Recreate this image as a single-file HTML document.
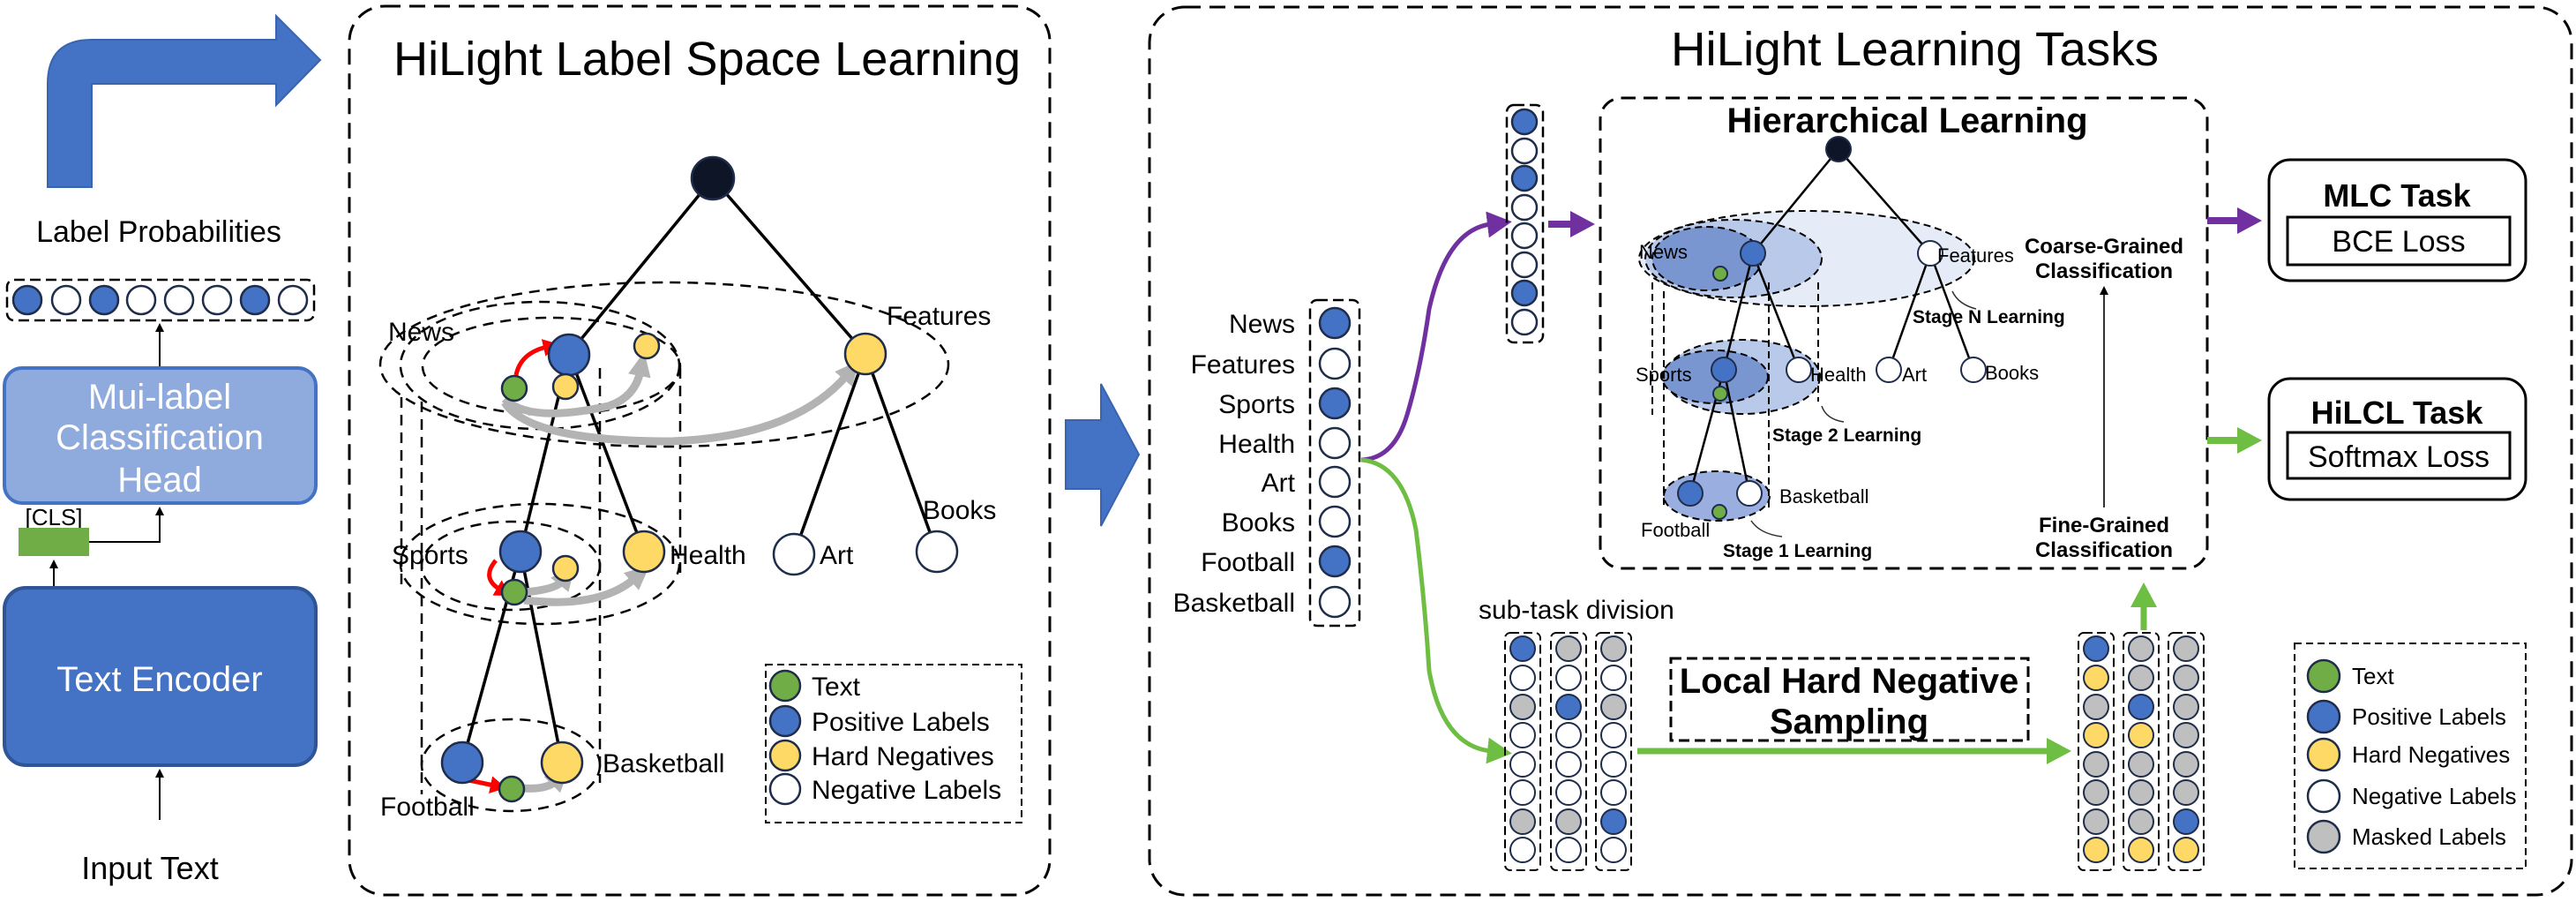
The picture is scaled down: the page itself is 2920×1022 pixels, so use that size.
<!DOCTYPE html>
<html><head><meta charset="utf-8"><style>
html,body{margin:0;padding:0;background:#fff;}
svg{display:block;font-family:"Liberation Sans",Arial,sans-serif;}
</style></head><body>
<svg width="2920" height="1022" viewBox="0 0 2920 1022" xmlns="http://www.w3.org/2000/svg">
<defs>
<marker id="ak" markerWidth="10" markerHeight="10" refX="8" refY="5" orient="auto" markerUnits="userSpaceOnUse"><path d="M0,0 L10,5 L0,10 z" fill="#000"/></marker>
<marker id="ag" markerWidth="30" markerHeight="30" refX="6" refY="15" orient="auto" markerUnits="userSpaceOnUse"><path d="M0,2 L28,15 L0,28 z" fill="#b3b3b3"/></marker>
<marker id="ar" markerWidth="20" markerHeight="20" refX="4" refY="10" orient="auto" markerUnits="userSpaceOnUse"><path d="M0,0 L18,10 L0,20 z" fill="#f00"/></marker>
<marker id="ap" markerWidth="30" markerHeight="30" refX="4" refY="15" orient="auto" markerUnits="userSpaceOnUse"><path d="M0,0 L28,15 L0,30 z" fill="#7030a0"/></marker>
<marker id="agr" markerWidth="30" markerHeight="30" refX="4" refY="15" orient="auto" markerUnits="userSpaceOnUse"><path d="M0,0 L28,15 L0,30 z" fill="#6fbe44"/></marker>
</defs>

<!-- Left column -->
<path d="M54,212 L54,95 Q54,45 104,45 L313,45 L313,18 L363,68 L313,119 L313,95 L104,95 L104,212 Z" fill="#4472c4" stroke="#3a64b0" stroke-width="2"/>
<text x="180" y="274" font-size="34" text-anchor="middle">Label Probabilities</text>
<rect x="8" y="317" width="348" height="46" rx="8" fill="none" stroke="#000" stroke-width="2.5" stroke-dasharray="12,6"/>
<g stroke="#1f2d4a" stroke-width="2.5">
<circle cx="31" cy="340" r="16" fill="#4472c4"/><circle cx="75" cy="340" r="16" fill="#fff"/>
<circle cx="118" cy="340" r="16" fill="#4472c4"/><circle cx="160" cy="340" r="16" fill="#fff"/>
<circle cx="203" cy="340" r="16" fill="#fff"/><circle cx="246" cy="340" r="16" fill="#fff"/>
<circle cx="289" cy="340" r="16" fill="#4472c4"/><circle cx="332" cy="340" r="16" fill="#fff"/>
</g>
<line x1="181" y1="417" x2="181" y2="368" stroke="#000" stroke-width="2" marker-end="url(#ak)"/>
<rect x="5" y="417" width="353" height="153" rx="20" fill="#8faadc" stroke="#4472c4" stroke-width="4"/>
<g fill="#fff" font-size="40" text-anchor="middle"><text x="181" y="463">Mui-label</text><text x="181" y="509">Classification</text><text x="181" y="557">Head</text></g>
<text x="61" y="595" font-size="26" text-anchor="middle">[CLS]</text>
<rect x="21" y="598" width="80" height="32" fill="#70ad47"/>
<polyline points="101,614 181,614 181,576" fill="none" stroke="#000" stroke-width="2" marker-end="url(#ak)"/>
<line x1="61" y1="666" x2="61" y2="636" stroke="#000" stroke-width="2" marker-end="url(#ak)"/>
<rect x="5" y="666" width="353" height="201" rx="24" fill="#4472c4" stroke="#2f5597" stroke-width="4"/>
<text x="181" y="783" font-size="40" fill="#fff" text-anchor="middle">Text Encoder</text>
<line x1="181" y1="929" x2="181" y2="873" stroke="#000" stroke-width="2" marker-end="url(#ak)"/>
<text x="170" y="996" font-size="36" text-anchor="middle">Input Text</text>

<!-- Left panel -->
<rect x="396" y="7" width="794" height="1007" rx="40" fill="none" stroke="#000" stroke-width="3" stroke-dasharray="18,10"/>
<text x="446" y="85" font-size="54" textLength="711" lengthAdjust="spacingAndGlyphs">HiLight Label Space Learning</text>

<g fill="none" stroke="#000" stroke-width="2.5" stroke-dasharray="12,8">
<ellipse cx="753" cy="413" rx="322" ry="93"/>
<ellipse cx="612" cy="414" rx="158" ry="72"/>
<ellipse cx="625" cy="415" rx="146" ry="55"/>
<ellipse cx="612" cy="639" rx="158" ry="68"/>
<ellipse cx="579" cy="641" rx="101" ry="50"/>
<ellipse cx="579" cy="867" rx="101" ry="52"/>
<line x1="455" y1="450" x2="455" y2="668"/>
<line x1="478" y1="455" x2="478" y2="900"/>
<line x1="680" y1="417" x2="680" y2="887"/>
<line x1="771" y1="417" x2="771" y2="652"/>
</g>
<g stroke="#000" stroke-width="3.5">
<line x1="808" y1="202" x2="645" y2="401"/><line x1="808" y1="202" x2="981" y2="401"/>
<line x1="645" y1="401" x2="590" y2="625"/><line x1="645" y1="401" x2="730" y2="625"/>
<line x1="981" y1="401" x2="900" y2="628"/><line x1="981" y1="401" x2="1062" y2="625"/>
<line x1="590" y1="625" x2="524" y2="864"/><line x1="590" y1="625" x2="637" y2="864"/>
</g>
<g fill="none" stroke="#b3b3b3" stroke-width="9">
<path d="M572,452 Q600,480 690,460 Q720,450 726,420" marker-end="url(#ag)"/>
<path d="M572,456 Q600,500 760,500 Q900,495 960,425" marker-end="url(#ag)"/>
<path d="M594,671 Q630,668 638,658" marker-end="url(#ag)"/>
<path d="M594,680 Q680,690 720,655" marker-end="url(#ag)"/>
<path d="M592,893 Q620,895 630,885" marker-end="url(#ag)"/>
</g>
<g fill="none" stroke="#f00" stroke-width="5">
<path d="M585,425 Q590,400 620,393" marker-end="url(#ar)"/>
<path d="M562,635 Q545,655 567,668" marker-end="url(#ar)"/>
<path d="M512,880 L560,890" marker-end="url(#ar)"/>
</g>
<g stroke="#1f2d4a" stroke-width="2.5">
<circle cx="808" cy="202" r="24" fill="#0d1526"/>
<circle cx="645" cy="402" r="23" fill="#4472c4"/>
<circle cx="981" cy="401" r="23" fill="#ffd966"/>
<circle cx="733" cy="392" r="14" fill="#ffd966"/>
<circle cx="641" cy="438" r="14" fill="#ffd966"/>
<circle cx="583" cy="440" r="14" fill="#70ad47"/>
<circle cx="590" cy="625" r="23" fill="#4472c4"/>
<circle cx="730" cy="625" r="23" fill="#ffd966"/>
<circle cx="641" cy="644" r="14" fill="#ffd966"/>
<circle cx="583" cy="671" r="14" fill="#70ad47"/>
<circle cx="900" cy="628" r="23" fill="#fff"/>
<circle cx="1062" cy="625" r="23" fill="#fff"/>
<circle cx="524" cy="864" r="23" fill="#4472c4"/>
<circle cx="637" cy="864" r="23" fill="#ffd966"/>
<circle cx="580" cy="894" r="14" fill="#70ad47"/>
</g>
<g font-size="30">
<text x="440" y="386">News</text><text x="1005" y="368">Features</text>
<text x="444" y="639">Sports</text><text x="759" y="639">Health</text>
<text x="929" y="639">Art</text><text x="1046" y="588">Books</text>
<text x="683" y="875">Basketball</text><text x="431" y="924">Football</text>
</g>
<rect x="868" y="753" width="290" height="179" fill="none" stroke="#000" stroke-width="2" stroke-dasharray="8,5"/>
<g stroke="#1f2d4a" stroke-width="2.5">
<circle cx="890" cy="777" r="17" fill="#70ad47"/><circle cx="890" cy="817" r="17" fill="#4472c4"/>
<circle cx="890" cy="856" r="17" fill="#ffd966"/><circle cx="890" cy="894" r="17" fill="#fff"/>
</g>
<g font-size="30"><text x="920" y="788">Text</text><text x="920" y="828">Positive Labels</text><text x="920" y="867">Hard Negatives</text><text x="920" y="905">Negative Labels</text></g>

<!-- middle arrow -->
<path d="M1208,476 L1248,476 L1248,435 L1291,515 L1248,596 L1248,554 L1208,554 Z" fill="#4472c4" stroke="#3a64b0" stroke-width="2"/>

<!-- Right panel -->
<rect x="1303" y="8" width="1612" height="1006" rx="40" fill="none" stroke="#000" stroke-width="3" stroke-dasharray="18,10"/>
<text x="1894" y="74" font-size="54" textLength="553" lengthAdjust="spacingAndGlyphs">HiLight Learning Tasks</text>

<g font-size="30" text-anchor="end">
<text x="1468" y="377">News</text><text x="1468" y="423">Features</text><text x="1468" y="468">Sports</text>
<text x="1468" y="513">Health</text><text x="1468" y="557">Art</text><text x="1468" y="602">Books</text>
<text x="1468" y="647">Football</text><text x="1468" y="693">Basketball</text>
</g>
<rect x="1485" y="340" width="56" height="369" rx="8" fill="none" stroke="#000" stroke-width="2.5" stroke-dasharray="12,6"/>
<g stroke="#1f2d4a" stroke-width="2.5">
<circle cx="1513" cy="366" r="17" fill="#4472c4"/><circle cx="1513" cy="412" r="17" fill="#fff"/>
<circle cx="1513" cy="457" r="17" fill="#4472c4"/><circle cx="1513" cy="502" r="17" fill="#fff"/>
<circle cx="1513" cy="546" r="17" fill="#fff"/><circle cx="1513" cy="591" r="17" fill="#fff"/>
<circle cx="1513" cy="636" r="17" fill="#4472c4"/><circle cx="1513" cy="682" r="17" fill="#fff"/>
</g>
<path d="M1543,521 Q1580,520 1595,470 Q1610,420 1620,350 Q1640,260 1690,254" fill="none" stroke="#7030a0" stroke-width="5" marker-end="url(#ap)"/>
<path d="M1543,521 Q1590,525 1605,600 Q1615,680 1620,760 Q1635,845 1690,851" fill="none" stroke="#6fbe44" stroke-width="5" marker-end="url(#agr)"/>

<rect x="1708" y="119" width="41" height="269" rx="8" fill="none" stroke="#000" stroke-width="2.5" stroke-dasharray="12,6"/>
<g stroke="#1f2d4a" stroke-width="2.5">
<circle cx="1728" cy="138" r="14" fill="#4472c4"/><circle cx="1728" cy="171" r="14" fill="#fff"/>
<circle cx="1728" cy="202" r="14" fill="#4472c4"/><circle cx="1728" cy="235" r="14" fill="#fff"/>
<circle cx="1728" cy="267" r="14" fill="#fff"/><circle cx="1728" cy="300" r="14" fill="#fff"/>
<circle cx="1728" cy="332" r="14" fill="#4472c4"/><circle cx="1728" cy="365" r="14" fill="#fff"/>
</g>
<line x1="1755" y1="254" x2="1784" y2="254" stroke="#7030a0" stroke-width="8" marker-end="url(#ap)"/>

<!-- Hierarchical Learning box -->
<rect x="1814" y="111" width="688" height="533" rx="24" fill="none" stroke="#000" stroke-width="3" stroke-dasharray="16,9"/>
<text x="2162" y="150" font-size="40" font-weight="bold" text-anchor="middle">Hierarchical Learning</text>
<g stroke="#000" stroke-width="2" stroke-dasharray="8,5">
<ellipse cx="2048" cy="293" rx="190" ry="54" fill="#e6ecf7"/>
<ellipse cx="1965" cy="293" rx="100" ry="44" fill="#b9c9ea"/>
<ellipse cx="1935" cy="293" rx="62" ry="36" fill="#7a96d0"/>
<ellipse cx="1975" cy="427" rx="88" ry="42" fill="#b9c9ea"/>
<ellipse cx="1944" cy="427" rx="60" ry="30" fill="#7a96d0"/>
<ellipse cx="1946" cy="562" rx="60" ry="28" fill="#9aaee0"/>
<line x1="1873" y1="320" x2="1873" y2="470" fill="none"/>
<line x1="1886" y1="330" x2="1886" y2="575" fill="none"/>
<line x1="2005" y1="320" x2="2005" y2="575" fill="none"/>
<line x1="2061" y1="320" x2="2061" y2="455" fill="none"/>
</g>
<g stroke="#000" stroke-width="2.5">
<line x1="2084" y1="169" x2="1987" y2="287"/><line x1="2084" y1="169" x2="2188" y2="287"/>
<line x1="1987" y1="287" x2="1954" y2="419"/><line x1="1987" y1="287" x2="2039" y2="419"/>
<line x1="2188" y1="287" x2="2141" y2="419"/><line x1="2188" y1="287" x2="2237" y2="419"/>
<line x1="1954" y1="419" x2="1916" y2="559"/><line x1="1954" y1="419" x2="1983" y2="559"/>
</g>
<g stroke="#1f2d4a" stroke-width="2">
<circle cx="2084" cy="169" r="14" fill="#0d1526"/>
<circle cx="1987" cy="287" r="14" fill="#4472c4"/><circle cx="2188" cy="287" r="14" fill="#fff"/>
<circle cx="1950" cy="310" r="8" fill="#70ad47"/>
<circle cx="1954" cy="419" r="14" fill="#4472c4"/><circle cx="2039" cy="419" r="14" fill="#fff"/>
<circle cx="2141" cy="419" r="14" fill="#fff"/><circle cx="2237" cy="419" r="14" fill="#fff"/>
<circle cx="1950" cy="446" r="8" fill="#70ad47"/>
<circle cx="1916" cy="559" r="14" fill="#4472c4"/><circle cx="1983" cy="559" r="14" fill="#fff"/>
<circle cx="1949" cy="580" r="8" fill="#70ad47"/>
</g>
<g font-size="22">
<text x="1858" y="293">News</text><text x="2196" y="297">Features</text>
<text x="1854" y="432">Sports</text><text x="2052" y="432">Health</text>
<text x="2156" y="432">Art</text><text x="2250" y="430">Books</text>
<text x="2017" y="570">Basketball</text><text x="1860" y="608">Football</text>
</g>
<g font-size="21" font-weight="bold">
<text x="2168" y="366">Stage N Learning</text>
<text x="2009" y="500">Stage 2 Learning</text>
<text x="1953" y="631">Stage 1 Learning</text>
</g>
<g fill="none" stroke="#333" stroke-width="1.5">
<path d="M2213,330 Q2220,345 2240,350"/><path d="M2065,460 Q2070,475 2090,478"/><path d="M1985,590 Q1995,605 2020,608"/>
</g>
<g font-size="24" font-weight="bold" text-anchor="middle">
<text x="2385" y="287">Coarse-Grained</text><text x="2385" y="315">Classification</text>
<text x="2385" y="603">Fine-Grained</text><text x="2385" y="631">Classification</text>
</g>
<line x1="2385" y1="575" x2="2385" y2="326" stroke="#333" stroke-width="2" marker-end="url(#ak)"/>

<!-- Task boxes -->
<line x1="2502" y1="250" x2="2540" y2="250" stroke="#7030a0" stroke-width="8" marker-end="url(#ap)"/>
<line x1="2502" y1="499" x2="2540" y2="499" stroke="#6fbe44" stroke-width="8" marker-end="url(#agr)"/>
<rect x="2572" y="181" width="291" height="137" rx="24" fill="none" stroke="#000" stroke-width="3"/>
<text x="2717" y="234" font-size="36" font-weight="bold" text-anchor="middle">MLC Task</text>
<rect x="2593" y="246" width="252" height="54" fill="none" stroke="#000" stroke-width="3"/>
<text x="2719" y="285" font-size="34" text-anchor="middle">BCE Loss</text>
<rect x="2572" y="429" width="291" height="137" rx="24" fill="none" stroke="#000" stroke-width="3"/>
<text x="2717" y="480" font-size="36" font-weight="bold" text-anchor="middle">HiLCL Task</text>
<rect x="2593" y="490" width="252" height="52" fill="none" stroke="#000" stroke-width="3"/>
<text x="2719" y="529" font-size="34" text-anchor="middle">Softmax Loss</text>

<!-- sub-task division -->
<text x="1676" y="701" font-size="30">sub-task division</text>
<g fill="none" stroke="#000" stroke-width="2" stroke-dasharray="10,5">
<rect x="1706" y="717" width="40" height="269" rx="6"/><rect x="1758" y="717" width="40" height="269" rx="6"/><rect x="1809" y="717" width="40" height="269" rx="6"/>
<rect x="2356" y="717" width="40" height="269" rx="6"/><rect x="2407" y="717" width="40" height="269" rx="6"/><rect x="2458" y="717" width="40" height="269" rx="6"/>
</g>
<g stroke="#1f2d4a" stroke-width="2">
<!-- left col1 -->
<circle cx="1726" cy="735" r="14" fill="#4472c4"/><circle cx="1726" cy="768" r="14" fill="#fff"/><circle cx="1726" cy="801" r="14" fill="#bfbfbf"/><circle cx="1726" cy="833" r="14" fill="#fff"/><circle cx="1726" cy="866" r="14" fill="#fff"/><circle cx="1726" cy="898" r="14" fill="#fff"/><circle cx="1726" cy="931" r="14" fill="#bfbfbf"/><circle cx="1726" cy="963" r="14" fill="#fff"/>
<circle cx="1778" cy="735" r="14" fill="#bfbfbf"/><circle cx="1778" cy="768" r="14" fill="#fff"/><circle cx="1778" cy="801" r="14" fill="#4472c4"/><circle cx="1778" cy="833" r="14" fill="#fff"/><circle cx="1778" cy="866" r="14" fill="#fff"/><circle cx="1778" cy="898" r="14" fill="#fff"/><circle cx="1778" cy="931" r="14" fill="#bfbfbf"/><circle cx="1778" cy="963" r="14" fill="#fff"/>
<circle cx="1829" cy="735" r="14" fill="#bfbfbf"/><circle cx="1829" cy="768" r="14" fill="#fff"/><circle cx="1829" cy="801" r="14" fill="#bfbfbf"/><circle cx="1829" cy="833" r="14" fill="#fff"/><circle cx="1829" cy="866" r="14" fill="#fff"/><circle cx="1829" cy="898" r="14" fill="#fff"/><circle cx="1829" cy="931" r="14" fill="#4472c4"/><circle cx="1829" cy="963" r="14" fill="#fff"/>
<!-- right cols -->
<circle cx="2376" cy="735" r="14" fill="#4472c4"/><circle cx="2376" cy="768" r="14" fill="#ffd966"/><circle cx="2376" cy="801" r="14" fill="#bfbfbf"/><circle cx="2376" cy="833" r="14" fill="#ffd966"/><circle cx="2376" cy="866" r="14" fill="#bfbfbf"/><circle cx="2376" cy="898" r="14" fill="#bfbfbf"/><circle cx="2376" cy="931" r="14" fill="#bfbfbf"/><circle cx="2376" cy="963" r="14" fill="#ffd966"/>
<circle cx="2427" cy="735" r="14" fill="#bfbfbf"/><circle cx="2427" cy="768" r="14" fill="#bfbfbf"/><circle cx="2427" cy="801" r="14" fill="#4472c4"/><circle cx="2427" cy="833" r="14" fill="#ffd966"/><circle cx="2427" cy="866" r="14" fill="#bfbfbf"/><circle cx="2427" cy="898" r="14" fill="#bfbfbf"/><circle cx="2427" cy="931" r="14" fill="#bfbfbf"/><circle cx="2427" cy="963" r="14" fill="#ffd966"/>
<circle cx="2478" cy="735" r="14" fill="#bfbfbf"/><circle cx="2478" cy="768" r="14" fill="#bfbfbf"/><circle cx="2478" cy="801" r="14" fill="#bfbfbf"/><circle cx="2478" cy="833" r="14" fill="#bfbfbf"/><circle cx="2478" cy="866" r="14" fill="#bfbfbf"/><circle cx="2478" cy="898" r="14" fill="#bfbfbf"/><circle cx="2478" cy="931" r="14" fill="#4472c4"/><circle cx="2478" cy="963" r="14" fill="#ffd966"/>
</g>
<line x1="1856" y1="851" x2="2324" y2="851" stroke="#6fbe44" stroke-width="7" marker-end="url(#agr)"/>
<line x1="2430" y1="714" x2="2430" y2="684" stroke="#6fbe44" stroke-width="7" marker-end="url(#agr)"/>
<rect x="1894" y="746" width="405" height="93" fill="none" stroke="#000" stroke-width="3" stroke-dasharray="12,6"/>
<g font-size="40" font-weight="bold" text-anchor="middle"><text x="2096" y="785">Local Hard Negative</text><text x="2096" y="831">Sampling</text></g>

<rect x="2601" y="729" width="262" height="255" fill="none" stroke="#000" stroke-width="2" stroke-dasharray="8,5"/>
<g stroke="#1f2d4a" stroke-width="2.5">
<circle cx="2634" cy="766" r="18" fill="#70ad47"/><circle cx="2634" cy="812" r="18" fill="#4472c4"/>
<circle cx="2634" cy="855" r="18" fill="#ffd966"/><circle cx="2634" cy="902" r="18" fill="#fff"/>
<circle cx="2634" cy="948" r="18" fill="#bfbfbf"/>
</g>
<g font-size="26"><text x="2666" y="775">Text</text><text x="2666" y="821">Positive Labels</text><text x="2666" y="864">Hard Negatives</text><text x="2666" y="911">Negative Labels</text><text x="2666" y="957">Masked Labels</text></g>
</svg>
</body></html>
